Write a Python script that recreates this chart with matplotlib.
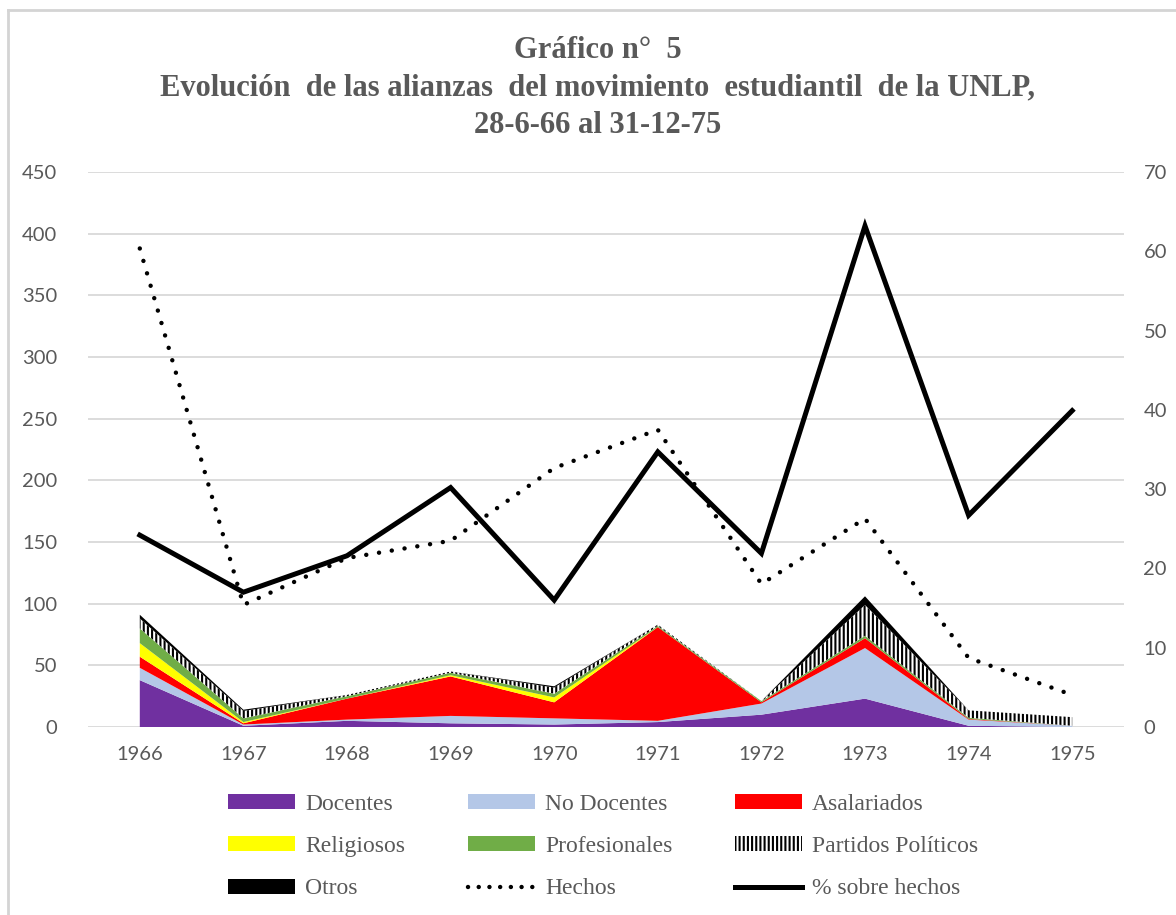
import matplotlib.pyplot as plt
from matplotlib.patches import Patch
from matplotlib.lines import Line2D

plt.rcParams['hatch.linewidth'] = 1.5

years = ['1966', '1967', '1968', '1969', '1970', '1971', '1972', '1973', '1974', '1975']

# alianzas (eje izquierdo, apiladas)
docentes = [38, 1, 5, 3, 2, 4, 10, 23, 1, 0]
no_docentes = [10, 1, 1, 6, 5, 1, 9, 41, 5, 1]
asalariados = [9, 1, 17, 32, 13, 76, 1, 8, 0.5, 0]
religiosos = [11, 1, 0, 1, 4, 0, 0, 0, 0, 0]
profesionales = [12, 3, 2, 2, 3, 1, 1, 2, 1, 0]
partidos = [8, 6, 1, 1, 5, 1, 0, 25, 6, 7]
otros = [3, 1, 0, 0, 1, 0, 0, 7, 0, 0]

# hechos (eje izquierdo) y % sobre hechos (eje derecho)
hechos = [388, 99, 137, 151, 210, 241, 116, 169, 56, 26]
pct_hechos = [24.2, 17.0, 21.6, 30.2, 16.0, 34.7, 21.9, 63.2, 26.7, 39.9]

GRAY = '#595959'
TICKFONT = 'Lato'
SERIF = 'Liberation Serif'

colors = ['#7030A0', '#B4C7E7', '#FF0000', '#FFFF00', '#70AD47', 'white', 'black']

fig = plt.figure(figsize=(11.76, 9.15), dpi=100)
ax = fig.add_axes([88 / 1176, 1 - 727 / 915, (1124 - 88) / 1176, (727 - 172) / 915])
x = list(range(len(years)))

polys = ax.stackplot(x, docentes, no_docentes, asalariados, religiosos,
                     profesionales, partidos, otros, colors=colors, linewidth=0, zorder=2)
polys[5].set_hatch('||||')
polys[5].set_edgecolor('black')
polys[5].set_linewidth(0)

ax.plot(x, hechos, color='black', lw=3.2, linestyle=(0, (0.01, 2.9)),
        dash_capstyle='round', zorder=3)

ax.set_xlim(-0.5, len(years) - 0.5)
ax.set_ylim(0, 450)
ax.set_yticks(range(0, 451, 50))
ax.set_xticks(x)
ax.set_xticklabels(years)
ax.grid(axis='y', color='#D9D9D9', lw=1.3, zorder=0)
ax.set_axisbelow(True)
for s in ax.spines.values():
    s.set_visible(False)
ax.tick_params(axis='both', length=0, labelsize=14.5, labelcolor=GRAY)
ax.tick_params(axis='y', pad=22)
ax.tick_params(axis='x', pad=14)

ax2 = ax.twinx()
ax2.plot(x, pct_hechos, color='black', lw=3.6, solid_joinstyle='miter', zorder=4)
ax2.set_ylim(0, 70)
ax2.set_yticks(range(0, 71, 10))
for s in ax2.spines.values():
    s.set_visible(False)
ax2.tick_params(axis='y', length=0, labelsize=14.5, labelcolor=GRAY, pad=14)

for a in (ax, ax2):
    for lab in a.get_xticklabels() + a.get_yticklabels():
        lab.set_fontfamily(TICKFONT)

fig.text(0.508, 1 - 88 / 915,
         'Gráfico n°  5\nEvolución  de las alianzas  del movimiento  estudiantil  de la UNLP,\n28-6-66 al 31-12-75',
         ha='center', va='center', fontsize=22, fontweight='bold', color=GRAY,
         family=SERIF, linespacing=1.37)

handles = [
    Patch(facecolor=colors[0]), Patch(facecolor=colors[3]), Patch(facecolor='black'),
    Patch(facecolor=colors[1]), Patch(facecolor=colors[4]),
    Line2D([], [], color='black', lw=3.2, linestyle=(0, (0.01, 2.4)), dash_capstyle='round'),
    Patch(facecolor=colors[2]), Patch(facecolor='white', edgecolor='black', hatch='||||', lw=0),
    Line2D([], [], color='black', lw=3.6),
]
labels = ['Docentes', 'Religiosos', 'Otros', 'No Docentes', 'Profesionales', 'Hechos',
          'Asalariados', 'Partidos Políticos', '% sobre hechos']
leg = fig.legend(handles, labels, ncols=3, loc='upper left',
                 bbox_to_anchor=(228 / 1176, 1 - 794 / 915), frameon=False,
                 prop={'family': SERIF, 'size': 17}, handlelength=2.85, handleheight=0.6,
                 handletextpad=0.42, columnspacing=2.65, labelspacing=0.9, borderpad=0,
                 borderaxespad=0)
for t in leg.get_texts():
    t.set_color(GRAY)

# marco gris del gráfico
fig.add_artist(Line2D([8 / 1176, 1], [1 - 10 / 915, 1 - 10 / 915], color='#D4D4D4', lw=2))
fig.add_artist(Line2D([8 / 1176, 8 / 1176], [0, 1 - 10 / 915], color='#D4D4D4', lw=2))

fig.savefig('out.png', dpi=100)
